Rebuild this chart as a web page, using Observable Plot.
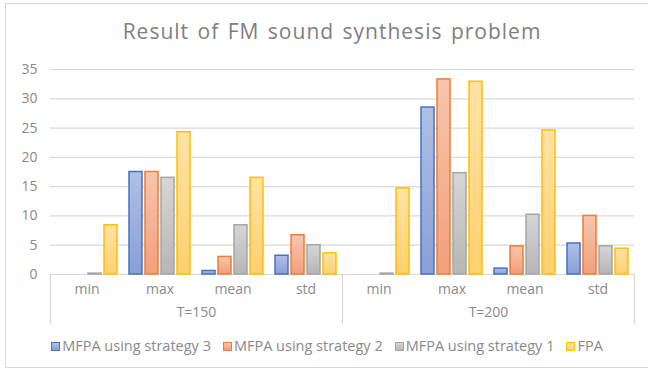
<!DOCTYPE html>
<html>
<head>
<meta charset="utf-8">
<script src="https://cdn.jsdelivr.net/npm/d3@7"></script>
<script src="https://cdn.jsdelivr.net/npm/@observablehq/plot@0.6"></script>
<style>
  html, body { margin: 0; padding: 0; background: #fff; }
  #chart { position: relative; width: 648px; height: 369px; overflow: hidden; font-family: "Open Sans", sans-serif; color: #8a8a8a; }
  #border { position: absolute; left: 5px; top: 3px; width: 660px; height: 365px; border: 1px solid #d9d9d9; box-sizing: border-box; }
  #title { position: absolute; left: 8px; top: 16px; width: 648px; text-align: center; font-size: 21px; line-height: 30px; letter-spacing: 1px; word-spacing: 2px; color: #808080; }
  #plot { position: absolute; left: 0; top: 55px; }
  #legend { position: absolute; left: 3px; top: 336px; width: 648px; display: flex; justify-content: center; font-size: 14.5px; line-height: 20px; }
  .item { display: flex; align-items: center; margin: 0 6px; }
  .swatch { width: 7px; height: 7px; border: 1px solid; margin-right: 2px; }
</style>
</head>
<body>
<div id="chart">
  <div id="border"></div>
  <div id="title">Result of FM sound synthesis problem</div>
  <div id="plot"></div>
  <div id="legend"></div>
</div>
<script>
// Outer grouping (run length) and inner statistic categories
const groups = ["T=150", "T=200"];
const stats = ["min", "max", "mean", "std"];
const series = ["MFPA using strategy 3", "MFPA using strategy 2", "MFPA using strategy 1", "FPA"];

// Values per series, ordered T=150 (min, max, mean, std) then T=200 (min, max, mean, std)
const strategy3 = [0, 17.5, 0.6, 3.2, 0, 28.5, 1.0, 5.3];
const strategy2 = [0, 17.5, 3.0, 6.7, 0, 33.3, 4.8, 10.0];
const strategy1 = [0.15, 16.5, 8.4, 5.0, 0.15, 17.3, 10.2, 4.8];
const fpa = [8.4, 24.3, 16.5, 3.6, 14.7, 32.9, 24.6, 4.4];

const yTicks = [0, 5, 10, 15, 20, 25, 30, 35];

// Styling per series: outline colour and top/bottom gradient fill
const strokeColors = ["#4472c4", "#ed7d31", "#a5a5a5", "#ffc000"];
const gradientStops = [
  ["#b1bfe5", "#889fd8"],
  ["#f7c6ae", "#f29f7c"],
  ["#d6d6d6", "#b6b6b6"],
  ["#ffe3a6", "#ffd071"]
];

const seriesValues = [strategy3, strategy2, strategy1, fpa];
const keys = groups.flatMap(g => stats.map(s => `${g}|${s}`));

const rows = [];
series.forEach((s, k) => {
  keys.forEach((key, j) => {
    rows.push({key, series: s, value: seriesValues[k][j]});
  });
});

// Group captions sit at the boundary between the 2nd and 3rd statistic of each group
const groupLabels = groups.map(g => ({key: `${g}|max`, label: g}));
const leftEdges = [{key: `${groups[0]}|min`}, {key: `${groups[1]}|min`}];
const rightEdges = [{key: `${groups[1]}|std`}];

const lineShape = {
  draw(context, l) {
    context.moveTo(0, 0);
    context.lineTo(0, -l);
  }
};

const axisColor = "#d9d9d9";

const plot = Plot.plot({
  width: 648,
  height: 275,
  marginLeft: 48,
  marginRight: 12,
  marginTop: 14,
  marginBottom: 56,
  style: {fontFamily: "'Open Sans', sans-serif", fontSize: "14px", color: "#8a8a8a", background: "transparent"},
  fx: {domain: keys, padding: 0, label: null, axis: null},
  x: {domain: series, paddingInner: 0.18, paddingOuter: 0.34, axis: null},
  y: {domain: [0, 35], label: null, axis: null},
  marks: [
    Plot.gridY(yTicks, {stroke: axisColor, strokeOpacity: 1, strokeWidth: 1.2}),
    Plot.axisY(yTicks, {tickSize: 0, tickPadding: 13, label: null}),
    Plot.axisFx({anchor: "bottom", tickSize: 0, tickPadding: 10, tickFormat: k => k.split("|")[1], label: null}),
    ...series.map((s, i) =>
      Plot.barY(rows.filter(r => r.series === s && r.value > 0), {
        fx: "key",
        x: "series",
        y: "value",
        fill: `url(#bar-grad-${i})`,
        stroke: strokeColors[i],
        strokeWidth: 1.5
      })
    ),
    Plot.text(groupLabels, {fx: "key", text: "label", frameAnchor: "bottom-right", textAnchor: "middle", dy: 42}),
    Plot.vector(leftEdges, {fx: "key", frameAnchor: "bottom-left", length: 49, rotate: 180, anchor: "start", shape: lineShape, stroke: axisColor, strokeWidth: 1.2}),
    Plot.vector(rightEdges, {fx: "key", frameAnchor: "bottom-right", length: 49, rotate: 180, anchor: "start", shape: lineShape, stroke: axisColor, strokeWidth: 1.2})
  ]
});

// Vertical gradients used as bar fills
const defs = d3.select(plot).insert("defs", ":first-child");
gradientStops.forEach(([top, bottom], i) => {
  const g = defs.append("linearGradient")
    .attr("id", `bar-grad-${i}`)
    .attr("x1", 0).attr("y1", 0).attr("x2", 0).attr("y2", 1);
  g.append("stop").attr("offset", "0%").attr("stop-color", top);
  g.append("stop").attr("offset", "100%").attr("stop-color", bottom);
});

document.getElementById("plot").appendChild(plot);

// Legend below the chart
const legend = d3.select("#legend");
series.forEach((s, i) => {
  const item = legend.append("div").attr("class", "item");
  item.append("div").attr("class", "swatch")
    .style("border-color", strokeColors[i])
    .style("background", `linear-gradient(${gradientStops[i][0]}, ${gradientStops[i][1]})`);
  item.append("span").text(s);
});
</script>
</body>
</html>
